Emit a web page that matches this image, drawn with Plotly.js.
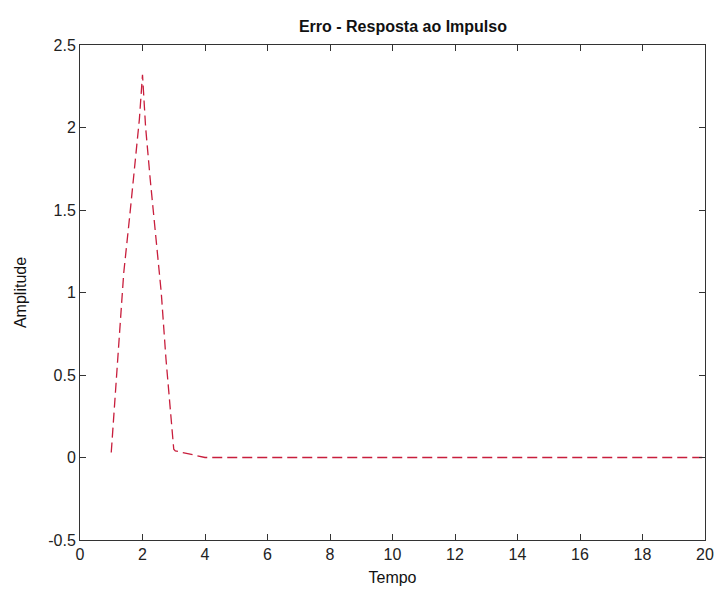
<!DOCTYPE html>
<html>
<head>
<meta charset="utf-8">
<script src="https://cdn.plot.ly/plotly-3.0.1.min.js"></script>
<style>html,body{margin:0;padding:0;background:#fff;}#chart{width:717px;height:592px;}</style>
</head>
<body>
<div id="chart"></div>
<script>
const tempo = [1, 1.05, 1.2, 1.4, 1.6, 1.8, 1.9, 2.0, 2.1, 2.25, 2.5, 2.6, 2.75, 2.9, 3.0, 3.05, 3.4, 4, 5, 6, 7, 8, 9, 10, 11, 12, 13, 14, 15, 16, 17, 18, 19, 20];
const amplitude = [0.03, 0.17, 0.62, 1.12, 1.48, 1.85, 2.05, 2.32, 2.0, 1.68, 1.2, 1.0, 0.6, 0.28, 0.05, 0.04, 0.025, 0, 0, 0, 0, 0, 0, 0, 0, 0, 0, 0, 0, 0, 0, 0, 0, 0];
const xTicks = [0, 2, 4, 6, 8, 10, 12, 14, 16, 18, 20];
const yTicks = [-0.5, 0, 0.5, 1, 1.5, 2, 2.5];
const yTickText = ["-0.5", "0", "0.5", "1", "1.5", "2", "2.5"];

const fontFam = "'Liberation Sans Narrow', 'Liberation Sans', Arial, sans-serif";
const axisCommon = {
  showgrid: false, zeroline: false, showline: true, linecolor: '#333', linewidth: 1,
  mirror: 'ticks', ticks: 'inside', ticklen: 6, tickcolor: '#333',
  tickfont: {family: fontFam, size: 16, color: '#222'}
};
Plotly.newPlot('chart', [{
  x: tempo, y: amplitude, mode: 'lines', type: 'scatter',
  line: {color: 'rgb(200,30,60)', width: 1.3, dash: '10px,5px'}
}], {
  width: 717, height: 592,
  margin: {l: 80, r: 12, t: 45, b: 52},
  paper_bgcolor: '#fff', plot_bgcolor: '#fff',
  showlegend: false,
  title: {text: '<b>Erro - Resposta ao Impulso</b>', font: {family: fontFam, size: 16, color: '#111'}, x: 0.562, xanchor: 'center', y: 0.955, yanchor: 'middle'},
  xaxis: Object.assign({}, axisCommon, {range: [0, 20], tickvals: xTicks, ticktext: xTicks.map(String),
    title: {text: 'Tempo', font: {family: fontFam, size: 16, color: '#111'}, standoff: 9}}),
  yaxis: Object.assign({}, axisCommon, {range: [-0.5, 2.5], tickvals: yTicks, ticktext: yTickText,
    title: {text: 'Amplitude', font: {family: fontFam, size: 16, color: '#111'}, standoff: 17}})
}, {displayModeBar: false, staticPlot: true});
</script>
</body>
</html>
